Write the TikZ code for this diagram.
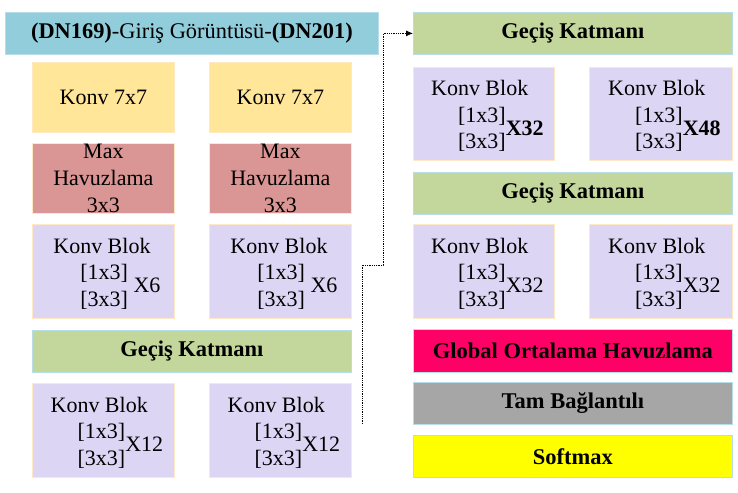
\documentclass[tikz,border=0pt]{standalone}
\usepackage{fontspec}
\setmainfont{Liberation Serif}
\usetikzlibrary{arrows.meta}

\definecolor{girismavi}{HTML}{92CDDC}
\definecolor{konvsari}{HTML}{FFE699}
\definecolor{havuzpembe}{HTML}{D99694}
\definecolor{bloklila}{HTML}{DCD6F4}
\definecolor{gecisyesil}{HTML}{C3D69B}
\definecolor{globalpembe}{HTML}{FF0066}
\definecolor{tamgri}{HTML}{A6A6A6}
\definecolor{softsari}{HTML}{FFFF00}
\definecolor{kenarmavi}{HTML}{B7DEE8}
\definecolor{kenarkrem}{HTML}{FFE9C4}

% Konv Blok text: [1x3] over [3x3], then the repeat count
\newcommand{\konvblok}[1]{\raisebox{-8pt}[0pt][0pt]{\begin{tabular}{@{\hspace{7pt}}l@{}}Konv Blok\\
  \hspace{27pt}\begin{tabular}{@{}l@{}}[1x3]\\{}[3x3]\end{tabular}#1\end{tabular}}}

\begin{document}
\begin{tikzpicture}[x=1pt, y=-1pt,
    kutu/.style={draw=kenarmavi, line width=0.8pt, anchor=north west, inner sep=0pt, align=center},
    yedi/.style={kutu, draw=kenarkrem, fill=konvsari, minimum width=142pt, minimum height=70pt,
        font=\fontsize{22}{27}\selectfont},
    havuz/.style={yedi, fill=havuzpembe},
    blok/.style={kutu, draw=kenarkrem, fill=bloklila, minimum width=142pt, minimum height=94pt,
        font=\fontsize{22}{26.5}\selectfont},
    genis/.style={kutu, minimum width=319pt, minimum height=42pt, font=\fontsize{22.5}{26}\selectfont\bfseries},
    gecis/.style={genis, fill=gecisyesil},
    baglanti/.style={densely dotted, line width=0.8pt, -{Latex[length=7pt,width=6pt]}}]

    \useasboundingbox (0,0) rectangle (738,492);

    % Left column
    \node[kutu, fill=girismavi, minimum width=373pt, minimum height=42pt, font=\fontsize{22.4}{26}\selectfont]
        (giris) at (5,12) {\textbf{(DN169)}-Giriş Görüntüsü-\textbf{(DN201)}};

    \node[yedi] (konvA) at (32,62) {Konv 7x7};
    \node[yedi] (konvB) at (209,62) {Konv 7x7};

    \node[havuz] (havuzA) at (32,143)
        {\raisebox{-7pt}[0pt][0pt]{\begin{tabular}{@{}c@{}}Max\\Havuzlama\\3x3\end{tabular}}};
    \node[havuz] (havuzB) at (209,143)
        {\raisebox{-7pt}[0pt][0pt]{\begin{tabular}{@{}c@{}}Max\\Havuzlama\\3x3\end{tabular}}};

    \node[blok] (blokA1) at (32,224) {\konvblok{~X6}};
    \node[blok] (blokB1) at (209,224) {\konvblok{~X6}};

    \node[gecis] (gecisL) at (32,330) {Geçiş Katmanı};

    \node[blok] (blokA2) at (32,383) {\konvblok{X12}};
    \node[blok] (blokB2) at (209,383) {\konvblok{X12}};

    % Right column
    \node[gecis] (gecisR1) at (413,12) {Geçiş Katmanı};

    \node[blok, minimum width=141pt, minimum height=93pt] (blokA3) at (413,67) {\konvblok{\textbf{X32}}};
    \node[blok, minimum width=143pt, minimum height=93pt] (blokB3) at (589,67) {\konvblok{\textbf{X48}}};

    \node[gecis] (gecisR2) at (413,172) {Geçiş Katmanı};

    \node[blok, minimum width=141pt] (blokA4) at (413,224) {\konvblok{X32}};
    \node[blok, minimum width=143pt] (blokB4) at (589,224) {\konvblok{X32}};

    \node[genis, fill=globalpembe, minimum height=43pt] (ortalama) at (413,329) {Global Ortalama Havuzlama};
    \node[genis, fill=tamgri] (tam) at (413,382) {Tam Bağlantılı};
    \node[genis, fill=softsari] (softmax) at (413,435) {Softmax};

    % Dotted link to the right column
    \coordinate (basla) at (362,424);
    \coordinate (kirik) at (383,265);
    \draw[baglanti] (basla) |- (kirik) |- (gecisR1.west);

\end{tikzpicture}
\end{document}
